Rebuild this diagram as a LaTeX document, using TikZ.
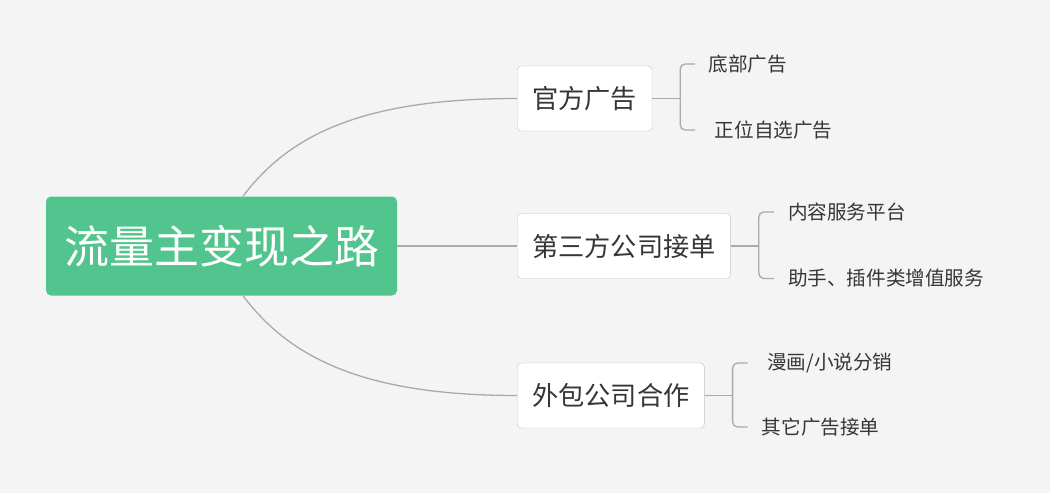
\documentclass[tikz,border=0pt]{standalone}
\usepackage{fontspec}
\setmainfont{Noto Sans CJK SC}
\usetikzlibrary{positioning,calc}
\definecolor{bg}{HTML}{F4F4F4}
\definecolor{rootgreen}{HTML}{52C48E}
\definecolor{linegray}{HTML}{AAAAAA}
\definecolor{boxgray}{HTML}{C2C2C2}
\definecolor{ink}{HTML}{363636}
\tikzset{ root/.style={fill=rootgreen, text=white, rounded corners=5pt,
            minimum width=351pt, minimum height=99pt,
            font=\fontsize{45}{45}\selectfont},
          topic/.style={draw=boxgray, fill=white, rounded corners=4pt, text=ink,
            minimum height=65pt, inner xsep=15pt,
            font=\fontsize{26.2}{26.2}\selectfont},
          leaf/.style={text=ink, inner ysep=0pt,
            font=\fontsize{19.6}{19.6}\selectfont},
          branch/.style={draw=linegray, line width=1.3pt}}

\begin{document}
\begin{tikzpicture}[x=1pt,y=-1pt]

\fill[bg] (0,0) rectangle (1050,493);

\node[root] (root) at (221.5,246) {流量主变现之路};

\node[topic, anchor=west] (ad) at (517,98.5) {官方广告};
\node[topic, anchor=west] (th) at (517,246) {第三方公司接单};
\node[topic, anchor=west] (ou) at (517,395.5) {外包公司合作};

\node[leaf, inner xsep=13pt, right=43pt of ad.east, yshift=34.5pt] (ad1) {底部广告};
\node[leaf, inner xsep=19.5pt, right=43pt of ad.east, yshift=-31.5pt] (ad2) {正位自选广告};
\node[leaf, inner xsep=14pt, right=43pt of th.east, yshift=34pt] (th1) {内容服务平台};
\node[leaf, inner xsep=14pt, right=43pt of th.east, yshift=-32.5pt] (th2) {助手、插件类增值服务};
\node[leaf, inner xsep=19.5pt, right=43pt of ou.east, yshift=32.5pt] (ou1) {漫画/小说分销};
\node[leaf, inner xsep=14pt, right=43pt of ou.east, yshift=-31.5pt] (ou2) {其它广告接单};

% main branches
\draw[branch] ([xshift=21.5pt]root.north) .. controls +(48,-64) and +(-150,0) .. (ad.west);
\draw[branch] (root.east) -- (th.west);
\draw[branch] ([xshift=21.5pt]root.south) .. controls +(48,64) and +(-150,0) .. (ou.west);

\foreach \p/\u/\l in {ad/ad1/ad2, th/th1/th2, ou/ou1/ou2} %brackets
  {
  \path (\p.east) ++(28,0) coordinate (\p-fork);
  \draw[branch] (\p.east) -- (\p-fork);
  \draw[branch, rounded corners=5pt] (\p-fork) |- (\u.west);
  \draw[branch, rounded corners=5pt] (\p-fork) |- (\l.west);
  }

\end{tikzpicture}
\end{document}
